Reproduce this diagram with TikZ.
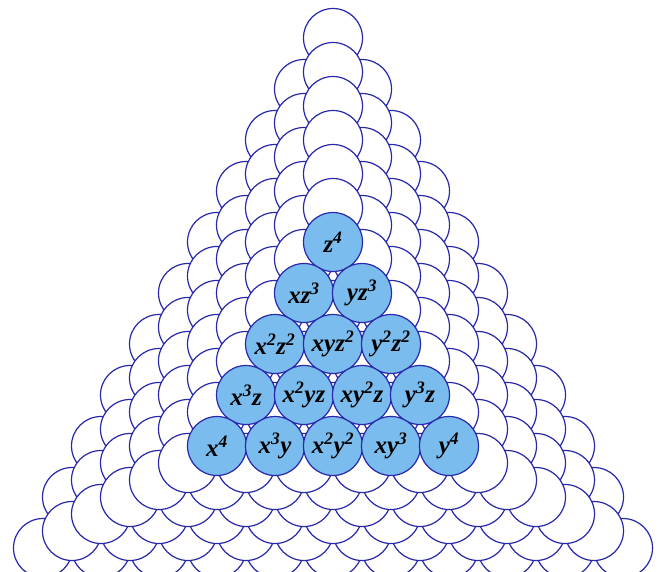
\documentclass[tikz,border=0pt]{standalone}
\usepackage{fontspec}
\setmainfont{Liberation Serif}
\definecolor{ballline}{RGB}{40,40,170}
\definecolor{ballfill}{RGB}{122,188,238}
\newcommand\pmono[1]{{\fontsize{25}{25}\selectfont\bfseries\itshape #1}}
\begin{document}
\begin{tikzpicture}[x=1pt,y=-1pt,
  ball/.style={circle, draw=ballline, line width=1.2pt, fill=white, minimum size=59pt, inner sep=0pt},
  hot/.style={ball, fill=ballfill, text=black}]
\useasboundingbox (0,0) rectangle (663,571);
\clip (0,0) rectangle (663,571);
\fill[white] (0,0) rectangle (663,571);
% layers 10 .. 5 of the pyramid, back to front
\foreach \n in {10,9,...,5}{
  \foreach \c in {0,...,\n}{
    \pgfmathtruncatemacro\m{\n-\c}
    \foreach \a in {0,...,\m}{
      \pgfmathtruncatemacro\b{\m-\a}
      \node[ball] (w\n-\a-\c) at ({333+29*(\b-\a)}, {378-34*\c+17*(\a+\b)}) {};
    }
  }
}
% layer 4 (front, highlighted)
\node[hot] (zzzz) at (333,242) {\pmono{z\textsuperscript{4}}};
\node[hot] (xzzz) at (304,293) {\pmono{xz\textsuperscript{3}}};
\node[hot] (yzzz) at (362,293) {\pmono{yz\textsuperscript{3}}};
\node[hot] (xxzz) at (275,344) {\pmono{x\textsuperscript{2}z\textsuperscript{2}}};
\node[hot] (xyzz) at (333,344) {\pmono{xyz\textsuperscript{2}}};
\node[hot] (yyzz) at (391,344) {\pmono{y\textsuperscript{2}z\textsuperscript{2}}};
\node[hot] (xxxz) at (246,395) {\pmono{x\textsuperscript{3}z}};
\node[hot] (xxyz) at (304,395) {\pmono{x\textsuperscript{2}yz}};
\node[hot] (xyyz) at (362,395) {\pmono{xy\textsuperscript{2}z}};
\node[hot] (yyyz) at (420,395) {\pmono{y\textsuperscript{3}z}};
\node[hot] (xxxx) at (217,446) {\pmono{x\textsuperscript{4}}};
\node[hot] (xxxy) at (275,446) {\pmono{x\textsuperscript{3}y}};
\node[hot] (xxyy) at (333,446) {\pmono{x\textsuperscript{2}y\textsuperscript{2}}};
\node[hot] (xyyy) at (391,446) {\pmono{xy\textsuperscript{3}}};
\node[hot] (yyyy) at (449,446) {\pmono{y\textsuperscript{4}}};
\end{tikzpicture}
\end{document}
